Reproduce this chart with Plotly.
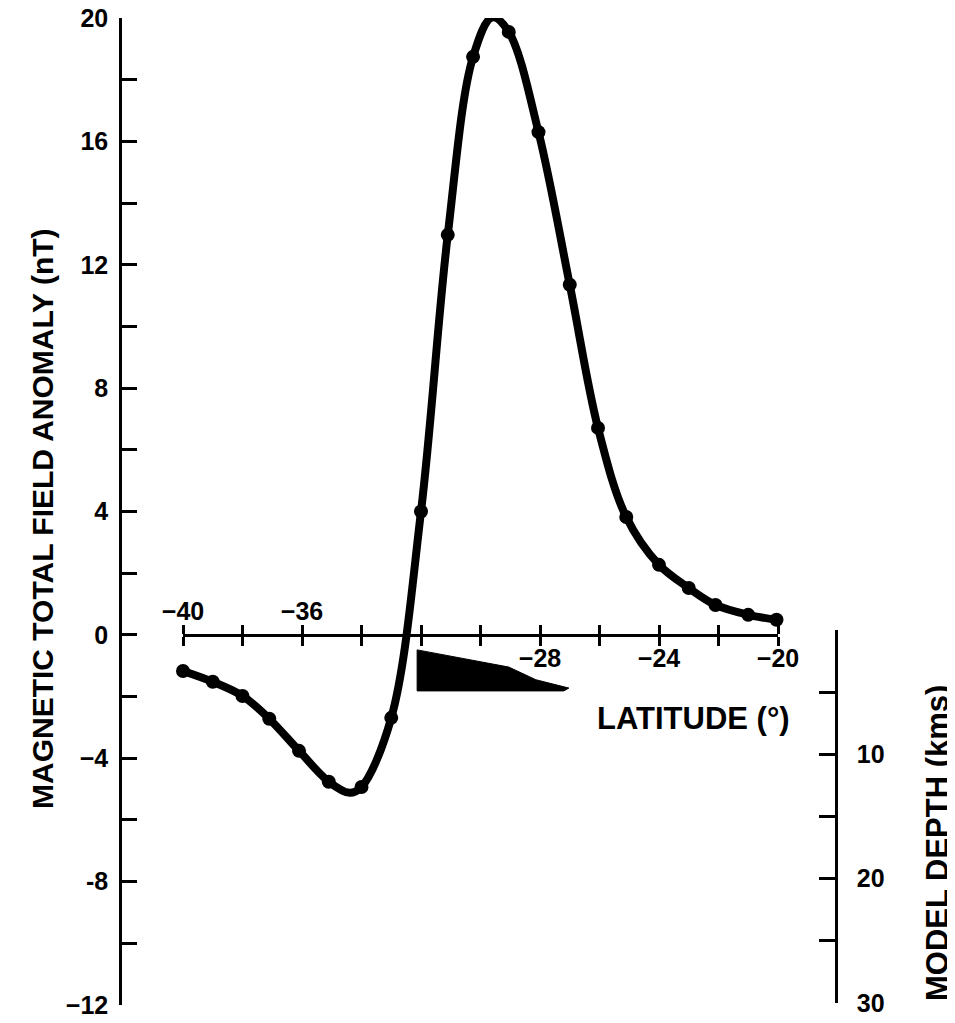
import plotly.graph_objects as go

# ---- data ----
lat_pts = [-40.0, -39.0, -38.0, -37.1, -36.1, -35.1, -34.0, -33.0, -32.0, -31.1,
           -30.25, -29.05, -28.05, -27.0, -26.05, -25.1, -24.0, -23.0, -22.1, -21.0, -20.05]
val_pts = [-1.17, -1.52, -1.98, -2.72, -3.76, -4.76, -4.93, -2.69, 4.0, 12.97,
           18.74, 19.55, 16.3, 11.35, 6.71, 3.82, 2.27, 1.52, 0.97, 0.65, 0.49]

# smooth curve vertices (points plus read trough/peak of the drawn line)
curve_lat = [-40.0, -39.0, -38.0, -37.1, -36.1, -35.1, -34.4, -34.0, -33.0, -32.0, -31.1,
             -30.25, -29.6, -29.05, -28.05, -27.0, -26.05, -25.1, -24.0, -23.0, -22.1, -21.0, -20.05]
curve_val = [-1.17, -1.52, -1.98, -2.72, -3.76, -4.76, -5.12, -4.93, -2.69, 4.0, 12.97,
             18.74, 20.02, 19.55, 16.3, 11.35, 6.71, 3.82, 2.27, 1.52, 0.97, 0.65, 0.49]

# model body (latitude, depth km)
body_lat = [-32.13, -30.45, -29.05, -28.14, -27.03, -27.2, -32.13, -32.13]
body_depth = [1.6, 2.33, 2.98, 4.0, 4.67, 4.9, 4.9, 1.6]

lat_ticks = [-40, -38, -36, -34, -32, -30, -28, -26, -24, -22, -20]
lat_labels_top = {-40: "−40", -36: "−36"}
lat_labels_bottom = {-28: "−28", -24: "−24", -20: "−20"}
anom_ticks = [-12, -10, -8, -6, -4, -2, 0, 2, 4, 6, 8, 10, 12, 14, 16, 18, 20]
anom_labels = {20: "20", 16: "16", 12: "12", 8: "8", 4: "4", 0: "0",
               -4: "−4", -8: "-8", -12: "−12"}
depth_ticks = [0, 5, 10, 15, 20, 25, 30]
depth_labels = {10: "10", 20: "20", 30: "30"}

# page has an 8px body margin; figure sized so it ends at the window edge
OFF = 8
WIN_W, WIN_H = 955, 1023
W, H = WIN_W - OFF, WIN_H - OFF
# target plot-area edges in screenshot pixels
PL, PR, PT, PB = 120, 836, 18, 1005
pw, ph = PR - PL, PB - PT

def fx(px):
    return (px - PL) / pw

def fy(py):
    return (PB - py) / ph

FONT = "Liberation Sans, Arial, Helvetica, sans-serif"
tickfont = dict(family=FONT, size=25, color="black", weight="bold")

fig = go.Figure()

fig.add_trace(go.Scatter(x=body_lat, y=body_depth, mode="lines", fill="toself",
                         fillcolor="black", line=dict(color="black", width=1),
                         xaxis="x", yaxis="y2", showlegend=False))
fig.add_trace(go.Scatter(x=curve_lat, y=curve_val, mode="lines",
                         line=dict(color="black", width=8, shape="spline", smoothing=1.0),
                         xaxis="x", yaxis="y", cliponaxis=False, hoverinfo="skip",
                         showlegend=False))
fig.add_trace(go.Scatter(x=lat_pts, y=val_pts, mode="markers",
                         marker=dict(color="black", size=14),
                         xaxis="x", yaxis="y", cliponaxis=False, showlegend=False))
# dummy trace so xaxis3 is rendered
fig.add_trace(go.Scatter(x=[-40], y=[None], xaxis="x3", yaxis="y", mode="markers",
                         showlegend=False, hoverinfo="skip"))

xdom = [fx(183), fx(778)]
common_x = dict(range=[-40, -20], tickvals=lat_ticks, ticks="outside", ticklen=9,
                tickwidth=2.5, tickcolor="black", showline=True, linewidth=2.5,
                linecolor="black", showgrid=False, zeroline=False, tickfont=tickfont,
                anchor="free", position=0.375, automargin=False,
                ticklabeloverflow="allow")

fig.update_layout(
    width=W, height=H,
    margin=dict(l=PL - OFF, r=W - (PR - OFF), t=PT - OFF, b=H - (PB - OFF), pad=0,
                autoexpand=False),
    paper_bgcolor="white", plot_bgcolor="rgba(0,0,0,0)",
    showlegend=False,
    xaxis=dict(domain=xdom, side="bottom", ticklabelstandoff=-9,
               ticktext=[lat_labels_bottom.get(v, "") for v in lat_ticks], **common_x),
    xaxis3=dict(overlaying="x", matches="x", side="top", ticklabelstandoff=-5,
                ticktext=[lat_labels_top.get(v, "") for v in lat_ticks], **common_x),
    yaxis=dict(domain=[0, 1], range=[-12, 20], anchor="free", position=0, side="left",
               tickvals=anom_ticks, ticktext=[anom_labels.get(v, "") for v in anom_ticks],
               ticks="inside", ticklen=15, tickwidth=2.5, tickcolor="black",
               showline=True, linewidth=2.5, linecolor="black", showgrid=False,
               zeroline=False, tickfont=tickfont, ticklabelstandoff=6, automargin=False,
               ticklabeloverflow="allow"),
    yaxis2=dict(domain=[fy(1003), fy(630)], range=[30, 0], anchor="free", position=1,
                side="right", tickvals=depth_ticks,
                ticktext=[depth_labels.get(v, "") for v in depth_ticks],
                ticks="inside", ticklen=16, tickwidth=2.5, tickcolor="black",
                showline=True, linewidth=2.5, linecolor="black", showgrid=False,
                zeroline=False, tickfont=tickfont, ticklabelstandoff=14, automargin=False,
                ticklabeloverflow="allow"),
)

titlefont = dict(family=FONT, size=30, color="black", weight="bold")
fig.add_annotation(text="MAGNETIC TOTAL FIELD ANOMALY (nT)", x=fx(42), y=fy(519),
                   xref="paper", yref="paper", showarrow=False, textangle=-90,
                   xanchor="center", yanchor="middle", font=titlefont)
fig.add_annotation(text="MODEL DEPTH (kms)", x=fx(937), y=fy(843),
                   xref="paper", yref="paper", showarrow=False, textangle=-90,
                   xanchor="center", yanchor="middle",
                   font=dict(family=FONT, size=31, color="black", weight="bold"))
fig.add_annotation(text="LATITUDE (°)", x=fx(693), y=fy(718),
                   xref="paper", yref="paper", showarrow=False,
                   xanchor="center", yanchor="middle",
                   font=dict(family=FONT, size=31, color="black", weight="bold"))

fig.write_html("out.html")
